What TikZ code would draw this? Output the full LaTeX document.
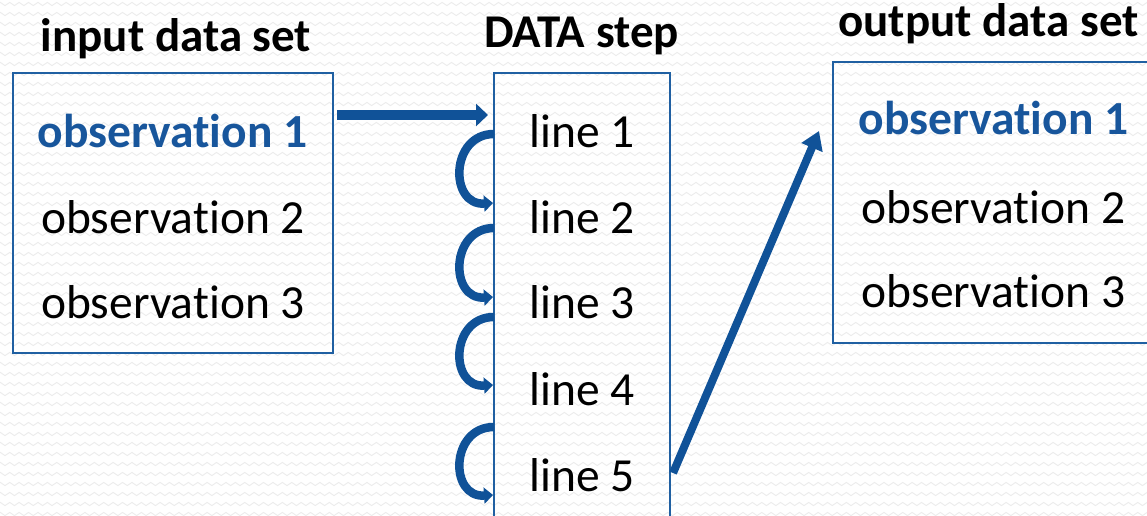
\documentclass[tikz,border=0pt]{standalone}
\usepackage{fontspec}
\setmainfont{Carlito}[Ligatures=NoCommon]
\usetikzlibrary{arrows.meta,decorations.pathmorphing}
\definecolor{flowblue}{RGB}{16,82,152}
\definecolor{frameblue}{RGB}{32,96,162}
\definecolor{textblue}{RGB}{24,86,156}
\definecolor{wavegray}{RGB}{236,236,236}
\begin{document}
\begin{tikzpicture}[x=1pt,y=-1pt,
  panel/.style={draw=frameblue,line width=1.6pt,inner sep=0pt},
  heading/.style={font=\fontsize{47}{54}\selectfont\bfseries,anchor=base,inner sep=0pt},
  entry/.style={font=\fontsize{47.5}{54}\selectfont,anchor=base,inner sep=0pt},
  current/.style={entry,font=\fontsize{47.5}{54}\selectfont\bfseries,text=textblue},
  wavebg/.style={draw=wavegray,line width=0.9pt,decorate,
    decoration={snake,segment length=9.4pt,amplitude=1.6pt}},
  feed/.style={draw=flowblue,line width=10pt,-{Triangle[width=22pt,length=12pt]}},
  emit/.style={draw=flowblue,line width=8pt,-{Triangle[width=22pt,length=18pt]}},
  curl/.style={draw=flowblue,line width=8.5pt,-{Triangle[width=16pt,length=9pt]}}]
\useasboundingbox (0,0) rectangle (1147,516);
\clip (0,0) rectangle (1147,516);
% patterned backdrop
\fill[white] (0,0) rectangle (1147,516);
\foreach \r in {0,...,52}
  \draw[wavebg] (-12,\r*10+4) -- (1165,\r*10+4);

% the three containers
\node[panel,minimum width=320pt,minimum height=280pt] (inbox) at (173,213) {};
\node[panel,minimum width=176pt,minimum height=470pt] (stepbox) at (582,308) {};
\node[panel,minimum width=334pt,minimum height=281pt] (outbox) at (1000,202.5) {};

% headings
\node[heading] (inttl)   at (176,52)   {input data set};
\node[heading] (stepttl) at (581.5,48) {DATA step};
\node[heading] (outttl)  at (988.5,37) {output data set};

% input observations
\node[current] (in1) at (172.5,147) {observation 1};
\node[entry]   (in2) at (173,233)   {observation 2};
\node[entry]   (in3) at (173,318)   {observation 3};

% program lines
\node[entry] (l1) at (582,147) {line 1};
\node[entry] (l2) at (582,233) {line 2};
\node[entry] (l3) at (582,318) {line 3};
\node[entry] (l4) at (582,405) {line 4};
\node[entry] (l5) at (582,491) {line 5};

% output observations
\node[current] (out1) at (993.5,135) {observation 1};
\node[entry]   (out2) at (993.5,223) {observation 2};
\node[entry]   (out3) at (993.5,307) {observation 3};

% reading an observation into the step
\coordinate (readfrom) at (337,115);
\coordinate (readto)   at (488,115);
\draw[feed] (readfrom) -- (readto);

% flow from line to line
\coordinate (c1a) at (494,134); \coordinate (c1b) at (493,203);
\coordinate (c2a) at (494,228); \coordinate (c2b) at (493,297);
\coordinate (c3a) at (494,317); \coordinate (c3b) at (493,385);
\coordinate (c4a) at (494,427); \coordinate (c4b) at (493,495);
\foreach \k in {1,...,4}
  \draw[curl] (c\k a) .. controls +(-44,0) and +(-44,3) .. (c\k b);

% writing the observation out
\coordinate (writefrom) at (673,473);
\coordinate (writeto)   at (819,131);
\draw[emit] (writefrom) -- (writeto);
\end{tikzpicture}
\end{document}
